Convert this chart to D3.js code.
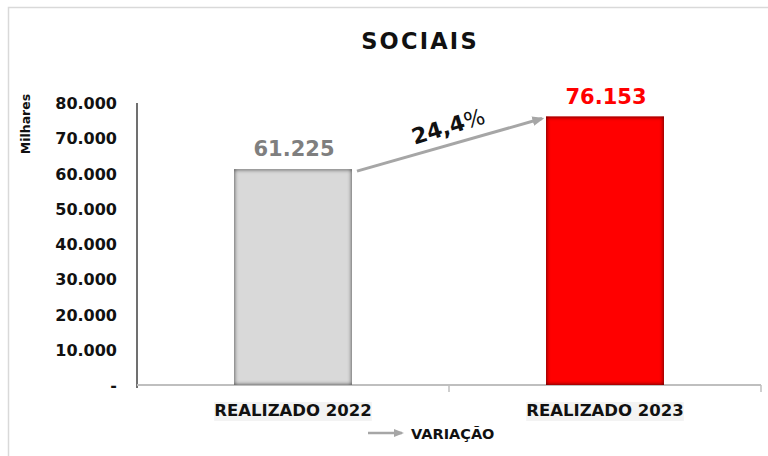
<!DOCTYPE html>
<html><head><meta charset="utf-8">
<script src="https://cdn.jsdelivr.net/npm/d3@7"></script>
<style>
html,body{margin:0;padding:0;background:#fff;}
svg{display:block;}
text{font-family:"DejaVu Sans",sans-serif;}
</style></head>
<body>
<svg id="chart" width="768" height="456"></svg>
<script>
const title = "SOCIAIS";
const categories = ["REALIZADO 2022", "REALIZADO 2023"];
const values = [61225, 76153];
const valueLabels = ["61.225", "76.153"];
const barColors = ["#d9d9d9", "#ff0000"];
const labelColors = ["#7f7f7f", "#ff0000"];
const yTicks = [0, 10000, 20000, 30000, 40000, 50000, 60000, 70000, 80000];
const yTickLabels = ["-", "10.000", "20.000", "30.000", "40.000", "50.000", "60.000", "70.000", "80.000"];
const variationLabel = "24,4";
const legendLabel = "VARIAÇÃO";
const yTitle = "Milhares";

const svg = d3.select("#chart");
const m = {left:137, right:761, top:103, bottom:385};

const defs = svg.append("defs");
function insetFilter(id, color, opacity, dev){
  const f = defs.append("filter").attr("id", id).attr("x","-20%").attr("y","-20%").attr("width","140%").attr("height","140%");
  f.append("feFlood").attr("flood-color",color).attr("flood-opacity",opacity).attr("result","flood");
  f.append("feComposite").attr("in","flood").attr("in2","SourceAlpha").attr("operator","out").attr("result","outside");
  f.append("feGaussianBlur").attr("in","outside").attr("stdDeviation",dev).attr("result","blur");
  f.append("feComposite").attr("in","blur").attr("in2","SourceAlpha").attr("operator","in").attr("result","inner");
  const mg = f.append("feMerge");
  mg.append("feMergeNode").attr("in","SourceGraphic");
  mg.append("feMergeNode").attr("in","inner");
  mg.append("feMergeNode").attr("in","inner");
}
insetFilter("insetGrey", "#555", 1, 2.3);
insetFilter("insetRed", "#600000", 1, 2.3);
defs.append("marker").attr("id","arrowHead").attr("viewBox","0 0 10 10")
  .attr("refX",8).attr("refY",5).attr("markerWidth",4).attr("markerHeight",4)
  .attr("markerUnits","strokeWidth").attr("orient","auto")
  .append("path").attr("d","M0,1 L10,5 L0,9 Z").attr("fill","#a6a6a6");
defs.append("marker").attr("id","arrowHeadL").attr("viewBox","0 0 10 10")
  .attr("refX",8).attr("refY",5).attr("markerWidth",4).attr("markerHeight",4)
  .attr("markerUnits","strokeWidth").attr("orient","auto")
  .append("path").attr("d","M0,1 L10,5 L0,9 Z").attr("fill","#a6a6a6");

// chart border
svg.append("path").attr("d","M8.5,456 L8.5,7.5 L768,7.5").attr("fill","none").attr("stroke","#d9d9d9").attr("stroke-width",1.5);

const x = d3.scaleBand().domain(categories).range([m.left, m.right]).padding(0);
const y = d3.scaleLinear().domain([0, 80000]).range([m.bottom, m.top]);
const barW = x.bandwidth() * 0.378;

// title
svg.append("text").attr("x", 420).attr("y", 49).attr("text-anchor","middle")
  .attr("font-size", 22.5).attr("font-weight","bold").attr("letter-spacing", 2.2).attr("fill","#111").text(title);

// y axis
const yAxis = d3.axisLeft(y).tickValues(yTicks).tickSize(0).tickPadding(20)
  .tickFormat((d,i)=>yTickLabels[i]);
const gy = svg.append("g").attr("transform",`translate(${m.left},0)`).call(yAxis);
gy.select(".domain").attr("stroke","#404040").attr("stroke-width",1.5).attr("d",`M0,${m.top}V${m.bottom+3}`);
gy.selectAll("text").attr("font-size",16).attr("font-weight","bold").attr("fill","#111")
  .attr("font-family","DejaVu Sans").attr("dy","0.35em");

// y title
svg.append("text").attr("transform","translate(30,124) rotate(-90)").attr("text-anchor","middle")
  .attr("font-size",12.5).attr("font-weight","bold").attr("fill","#111").text(yTitle);

// x axis
const xAxis = d3.axisBottom(x).tickSize(0).tickFormat(()=>"");
const gx = svg.append("g").attr("transform",`translate(0,${m.bottom})`).call(xAxis);
gx.select(".domain").attr("stroke","#bfbfbf").attr("stroke-width",2)
  .attr("d",`M${m.left},0H${m.right}`);
const boundaries = [x.range()[0] + x.step(), x.range()[1]];
gx.selectAll("line.bt").data(boundaries).enter().append("line").attr("class","bt")
  .attr("x1",d=>d).attr("x2",d=>d).attr("y1",0).attr("y2",7).attr("stroke","#bfbfbf").attr("stroke-width",1.5);

// category labels with light background
categories.forEach((c,i)=>{
  const cx = x(c) + x.bandwidth()/2;
  const t = svg.append("text").attr("x",cx).attr("y",416).attr("text-anchor","middle")
    .attr("font-size",16.5).attr("font-weight","bold").attr("fill","#111").text(c);
  const bb = t.node().getBBox();
  svg.insert("rect", "text").attr("x",bb.x).attr("y",bb.y+1).attr("width",bb.width).attr("height",bb.height)
    .attr("fill","#f3f3f3");
});

// bars
svg.selectAll("rect.bar").data(values).enter().append("rect").attr("class","bar")
  .attr("x",(d,i)=>x(categories[i]) + (x.bandwidth()-barW)/2)
  .attr("y",d=>y(d)).attr("width",barW).attr("height",d=>y(0)-y(d))
  .attr("fill",(d,i)=>barColors[i])
  .attr("filter",(d,i)=> i===0 ? "url(#insetGrey)" : "url(#insetRed)");

// value labels
svg.selectAll("text.vl").data(values).enter().append("text").attr("class","vl")
  .attr("x",(d,i)=>x(categories[i]) + x.bandwidth()/2 + 1)
  .attr("y",d=>y(d)-13).attr("text-anchor","middle")
  .attr("font-size",21).attr("font-weight","bold").attr("fill",(d,i)=>labelColors[i])
  .text((d,i)=>valueLabels[i]);

// variation arrow
const x1 = x(categories[0]) + (x.bandwidth()+barW)/2 + 5;
const y1 = y(values[0]) + 2;
const x2 = x(categories[1]) + (x.bandwidth()-barW)/2 - 4;
const y2 = y(values[1]) + 2;
svg.append("line").attr("x1",x1).attr("y1",y1).attr("x2",x2).attr("y2",y2)
  .attr("stroke","#a6a6a6").attr("stroke-width",3).attr("marker-end","url(#arrowHead)");
const ang = Math.atan2(y2-y1, x2-x1)*180/Math.PI;
const vt = svg.append("text").attr("transform",`translate(${(x1+x2)/2+1},${(y1+y2)/2-11}) rotate(${ang-1})`)
  .attr("text-anchor","middle").attr("font-size",22).attr("fill","#111");
vt.append("tspan").attr("font-weight","bold").text(variationLabel);
vt.append("tspan").attr("font-weight","normal").text("%");

// legend
svg.append("line").attr("x1",368).attr("y1",433).attr("x2",402).attr("y2",433)
  .attr("stroke","#a6a6a6").attr("stroke-width",2.5).attr("marker-end","url(#arrowHeadL)");
svg.append("text").attr("x",411).attr("y",439).attr("font-size",14.5).attr("font-weight","bold")
  .attr("fill","#111").text(legendLabel);
</script>
</body></html>
